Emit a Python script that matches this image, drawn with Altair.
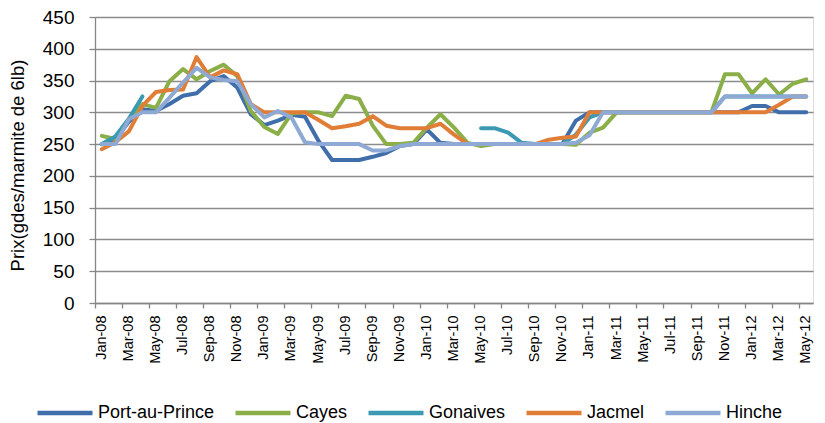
import altair as alt
import pandas as pd

months = ["Jan-08","Feb-08","Mar-08","Apr-08","May-08","Jun-08","Jul-08","Aug-08","Sep-08","Oct-08","Nov-08","Dec-08",
          "Jan-09","Feb-09","Mar-09","Apr-09","May-09","Jun-09","Jul-09","Aug-09","Sep-09","Oct-09","Nov-09","Dec-09",
          "Jan-10","Feb-10","Mar-10","Apr-10","May-10","Jun-10","Jul-10","Aug-10","Sep-10","Oct-10","Nov-10","Dec-10",
          "Jan-11","Feb-11","Mar-11","Apr-11","May-11","Jun-11","Jul-11","Aug-11","Sep-11","Oct-11","Nov-11","Dec-11",
          "Jan-12","Feb-12","Mar-12","Apr-12","May-12"]

port_au_prince = [250,258,285,305,302,313,326,330,349,357,339,297,
                  280,287,296,293,255,225,225,225,230,236,247,250,
                  273,252,250,250,250,250,250,250,250,250,250,287,
                  300,300,300,300,300,300,300,300,300,300,300,300,
                  310,310,300,300,300]
cayes = [263,258,289,313,307,349,368,352,365,375,357,302,
         277,266,298,300,300,294,326,321,279,250,250,252,
         276,297,276,252,247,250,250,250,250,250,250,249,
         268,276,300,300,300,300,300,300,300,300,360,360,
         330,352,328,345,352]
gonaives = [250,262,290,325,None,None,None,None,None,None,None,None,
            None,None,None,None,None,None,None,None,None,None,None,None,
            None,None,None,None,275,275,268,252,250,250,250,265,
            292,300,300,300,300,300,300,300,300,300,325,325,
            325,325,325,325,325]
jacmel = [242,253,270,310,332,335,336,387,355,366,360,313,
          300,300,300,300,288,275,278,282,294,279,275,275,
          275,282,265,250,250,250,250,250,250,257,260,262,
          300,300,300,300,300,300,300,300,300,300,300,300,
          300,300,312,325,325]
hinche = [250,250,289,300,300,323,347,370,355,351,349,313,
          292,302,292,253,250,250,250,250,240,240,247,250,
          250,250,250,250,250,250,250,250,250,250,250,252,
          264,300,300,300,300,300,300,300,300,300,325,325,
          325,325,325,325,325]

cities = ["Port-au-Prince", "Cayes", "Gonaives", "Jacmel", "Hinche"]
colors = ["#3F6EAA", "#8AAE48", "#3B9AB2", "#E07E38", "#8EAAD4"]
series = [port_au_prince, cayes, gonaives, jacmel, hinche]

rows = []
for ci, (city, vals) in enumerate(zip(cities, series)):
    seg = 0
    prev_none = False
    for m, v in zip(months, vals):
        if v is None:
            prev_none = True
            continue
        if prev_none:
            seg += 1
            prev_none = False
        rows.append({"month": m, "prix": v, "ville": city, "seg": f"{ci}-{seg}", "ord": ci})
df = pd.DataFrame(rows)

label_months = months[::2]

chart = alt.Chart(df).mark_line(strokeWidth=4, strokeJoin="round", strokeCap="round").encode(
    x=alt.X("month:N", sort=months, bandPosition=0.5,
            scale=alt.Scale(type="band", domain=months, paddingInner=0, paddingOuter=0),
            axis=alt.Axis(title=None, values=label_months, labelAngle=270, labelAlign="right",
                          labelBaseline="middle", labelFont="Liberation Sans", labelFontSize=14.5,
                          labelColor="#000000", labelPadding=7, tickSize=5, tickColor="#868686",
                          tickWidth=1.3, bandPosition=0, domainColor="#868686", domainWidth=1.3,
                          grid=False, labelOverlap=False)),
    y=alt.Y("prix:Q", scale=alt.Scale(domain=[0, 450], nice=False),
            axis=alt.Axis(title="Prix(gdes/marmite de 6lb)", values=list(range(0, 451, 50)),
                          labelFont="Liberation Sans", labelFontSize=19, labelColor="#000000",
                          labelPadding=15, tickSize=6, tickColor="#868686", tickWidth=1.3,
                          domainColor="#868686", domainWidth=1.3, grid=True, gridColor="#8C8C8C",
                          gridWidth=1.3, titleFont="Liberation Sans", titleFontSize=18.5,
                          titleFontWeight="normal", titleColor="#000000", titleAngle=270,
                          titleX=-78, titleY=148, titleAlign="center", titleBaseline="middle")),
    color=alt.Color("ville:N", scale=alt.Scale(domain=cities, range=colors),
                    legend=alt.Legend(title=None, orient="none", legendX=-60, legendY=366,
                                      direction="horizontal", symbolType="stroke", symbolSize=3025,
                                      symbolStrokeWidth=4.5, labelFont="Liberation Sans",
                                      labelFontSize=18, labelColor="#000000", labelLimit=300,
                                      columnPadding=11, labelOffset=3, padding=0)),
    detail="seg:N",
    order="ord:Q",
).properties(
    width=718, height=286,
    autosize=alt.AutoSizeParams(type="none"),
    padding={"left": 87, "top": 9, "right": 4, "bottom": 120},
).configure_view(stroke=None).configure(background="white")

chart.save("out.html", embed_options={"renderer": "svg", "actions": False})
